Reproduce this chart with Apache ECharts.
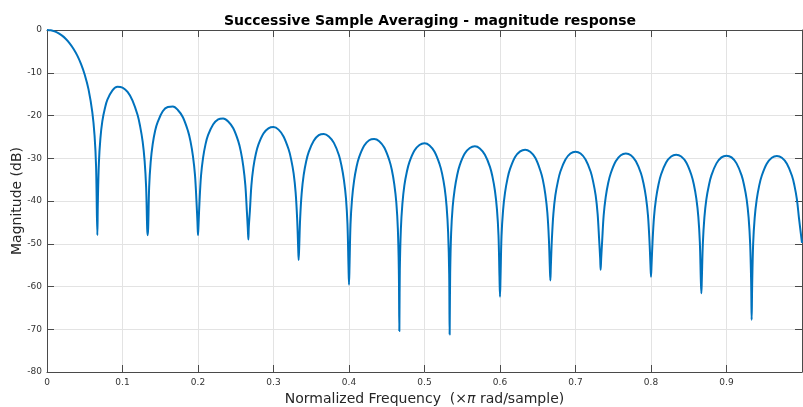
<!DOCTYPE html>
<html>
<head>
<meta charset="utf-8">
<script src="https://cdn.jsdelivr.net/npm/echarts@6/dist/echarts.min.js"></script>
<style>
  html, body { margin: 0; padding: 0; background: #fff; }
  #mychart { width: 803px; height: 407px; }
</style>
</head>
<body>
<div id="mychart"></div>
<script>
// normalized frequency (x pi rad/sample)
const freq = [
  0, 0.005, 0.01, 0.015, 0.02, 0.025, 0.03, 0.035, 0.04, 0.045, 0.05, 0.055, 0.06, 0.063, 0.065, 0.0667,
  0.0673, 0.0687, 0.0707, 0.0733, 0.0767, 0.08, 0.0867, 0.0933, 0.1, 0.1067, 0.1133, 0.12, 0.1233, 0.1267, 0.1293, 0.1313, 0.1327, 0.1333,
  0.134, 0.1353, 0.1373, 0.14, 0.1433, 0.1467, 0.1533, 0.16, 0.1667, 0.1733, 0.18, 0.1867, 0.19, 0.1933, 0.196, 0.198, 0.1993, 0.2,
  0.2007, 0.202, 0.204, 0.2067, 0.21, 0.2133, 0.22, 0.2267, 0.2333, 0.24, 0.2467, 0.2533, 0.2567, 0.26, 0.2627, 0.2647, 0.266, 0.2667,
  0.2673, 0.2687, 0.2707, 0.2733, 0.2767, 0.28, 0.2867, 0.2933, 0.3, 0.3067, 0.3133, 0.32, 0.3233, 0.3267, 0.3293, 0.3313, 0.3327, 0.3333,
  0.334, 0.3353, 0.3373, 0.34, 0.3433, 0.3467, 0.3533, 0.36, 0.3667, 0.3733, 0.38, 0.3867, 0.39, 0.3933, 0.396, 0.398, 0.3993, 0.4,
  0.4007, 0.402, 0.404, 0.4067, 0.41, 0.4133, 0.42, 0.4267, 0.4333, 0.44, 0.4467, 0.4533, 0.4567, 0.46, 0.4627, 0.4647, 0.466, 0.4667,
  0.4673, 0.4687, 0.4707, 0.4733, 0.4767, 0.48, 0.4867, 0.4933, 0.5, 0.5067, 0.5133, 0.52, 0.5233, 0.5267, 0.5293, 0.5313, 0.5327, 0.5333,
  0.534, 0.5353, 0.5373, 0.54, 0.5433, 0.5467, 0.5533, 0.56, 0.5667, 0.5733, 0.58, 0.5867, 0.59, 0.5933, 0.596, 0.598, 0.5993, 0.6,
  0.6007, 0.602, 0.604, 0.6067, 0.61, 0.6133, 0.62, 0.6267, 0.6333, 0.64, 0.6467, 0.6533, 0.6567, 0.66, 0.6627, 0.6647, 0.666, 0.6667,
  0.6673, 0.6687, 0.6707, 0.6733, 0.6767, 0.68, 0.6867, 0.6933, 0.7, 0.7067, 0.7133, 0.72, 0.7233, 0.7267, 0.7293, 0.7313, 0.7327, 0.7333,
  0.734, 0.7353, 0.7373, 0.74, 0.7433, 0.7467, 0.7533, 0.76, 0.7667, 0.7733, 0.78, 0.7867, 0.79, 0.7933, 0.796, 0.798, 0.7993, 0.8,
  0.8007, 0.802, 0.804, 0.8067, 0.81, 0.8133, 0.82, 0.8267, 0.8333, 0.84, 0.8467, 0.8533, 0.8567, 0.86, 0.8627, 0.8647, 0.866, 0.8667,
  0.8673, 0.8687, 0.8707, 0.8733, 0.8767, 0.88, 0.8867, 0.8933, 0.9, 0.9067, 0.9133, 0.92, 0.9233, 0.9267, 0.9293, 0.9313, 0.9327, 0.9333,
  0.934, 0.9353, 0.9373, 0.94, 0.9433, 0.9467, 0.9533, 0.96, 0.9667, 0.9733, 0.98, 0.9867, 0.99, 0.9933, 0.996, 1.0
]

// magnitude (dB)
const mag = [
  0, -0.08, -0.33, -0.74, -1.32, -2.11, -3.11, -4.37, -5.93, -7.91, -10.45, -13.9, -19.2, -24.7, -31.9, -48.0,
  -40.7, -31.2, -25.4, -21.3, -18.3, -16.3, -14.1, -13.3, -13.5, -14.5, -16.5, -19.9, -22.5, -26.1, -30.6, -36.8, -46.5, -48.0,
  -46.3, -36.8, -30.9, -26.7, -23.5, -21.5, -19.0, -18.0, -17.9, -18.7, -20.4, -23.6, -26.0, -29.5, -33.9, -40.1, -45.0, -48.0,
  -45.5, -40.1, -34.1, -29.9, -26.7, -24.6, -22.1, -20.9, -20.7, -21.4, -23.0, -26.0, -28.4, -31.9, -36.3, -42.3, -46.5, -49.0,
  -46.0, -42.4, -36.4, -32.2, -28.9, -26.8, -24.2, -23.0, -22.7, -23.3, -24.9, -27.9, -30.2, -33.6, -38.0, -44.1, -51.0, -53.8,
  -51.0, -44.1, -38.2, -33.9, -30.7, -28.5, -25.9, -24.6, -24.3, -24.9, -26.4, -29.3, -31.7, -35.1, -39.4, -45.5, -55.1, -59.6,
  -55.1, -45.5, -39.6, -35.3, -32.0, -29.8, -27.1, -25.8, -25.5, -26.0, -27.5, -30.4, -32.7, -36.1, -40.4, -46.5, -56.1, -70.4,
  -56.2, -46.6, -40.7, -36.4, -33.1, -30.9, -28.2, -26.9, -26.5, -27.0, -28.5, -31.4, -33.6, -37.0, -41.3, -47.4, -57.0, -71.2,
  -57.0, -47.4, -41.4, -37.2, -33.9, -31.6, -28.9, -27.6, -27.2, -27.7, -29.2, -32.0, -34.3, -37.6, -42.0, -48.0, -57.6, -62.4,
  -57.9, -48.3, -42.3, -38.0, -34.7, -32.5, -29.7, -28.4, -28.0, -28.5, -29.9, -32.8, -35.0, -38.4, -42.7, -48.7, -55.5, -58.6,
  -55.5, -49.0, -43.0, -38.7, -35.4, -33.1, -30.3, -28.9, -28.5, -28.9, -30.3, -33.1, -35.4, -38.7, -43.0, -49.0, -53.5, -56.1,
  -53.5, -49.4, -43.4, -39.1, -35.8, -33.5, -30.7, -29.3, -28.9, -29.3, -30.7, -33.5, -35.8, -39.1, -43.4, -49.4, -55.0, -57.7,
  -55.0, -49.7, -43.7, -39.4, -36.1, -33.8, -31.0, -29.6, -29.2, -29.6, -31.0, -33.8, -36.1, -39.4, -43.7, -49.7, -58.5, -61.6,
  -58.5, -49.9, -43.9, -39.6, -36.3, -34.0, -31.2, -29.8, -29.4, -29.8, -31.2, -34.0, -36.3, -39.6, -43.9, -49.9, -59.5, -67.8,
  -59.6, -50.0, -44.0, -39.7, -36.4, -34.1, -31.3, -29.9, -29.5, -29.9, -31.3, -34.1, -36.4, -39.7, -44.0, -49.8
]

const xTicks = [0, 0.1, 0.2, 0.3, 0.4, 0.5, 0.6, 0.7, 0.8, 0.9, 1]
const yTicks = [-80, -70, -60, -50, -40, -30, -20, -10, 0]

const myChart = echarts.init(document.getElementById('mychart'))

let points = []
for (let i = 0; i < freq.length; ++i) {
  points.push([freq[i], mag[i]])
}

const axisColor = '#4a4a4a'
const gridColor = '#e3e3e3'
const font = 'DejaVu Sans'

const xRange = { min: xTicks[0], max: xTicks[xTicks.length - 1], interval: 0.1 }
const yRange = { min: yTicks[0], max: yTicks[yTicks.length - 1], interval: 10 }

// box lines with ticks pointing into the plot (MATLAB style)
const boxLine = { show: true, onZero: false, lineStyle: { color: axisColor, width: 1 } }
const boxTick = { show: true, inside: true, length: 7, lineStyle: { color: axisColor } }

const options = {
  animation: false,
  textStyle: { fontFamily: font },
  title: {
    text: 'Successive Sample Averaging - magnitude response',
    left: 425,
    top: 9,
    textAlign: 'center',
    textStyle: { fontFamily: font, fontSize: 14, fontWeight: 'bold', color: '#000' }
  },
  grid: { left: 47, right: 1, top: 30, bottom: 35, outerBoundsMode: 'none', containLabel: false },
  xAxis: [
    Object.assign({
      type: 'value',
      position: 'bottom',
      name: '{n|Normalized Frequency  (}{i|×π}{n| rad/sample)}',
      nameLocation: 'middle',
      nameGap: 18,
      nameTextStyle: {
        rich: {
          n: { fontFamily: font, fontSize: 14, color: '#262626' },
          i: { fontFamily: font, fontSize: 14, color: '#262626', fontStyle: 'italic' }
        }
      },
      axisLine: boxLine,
      axisTick: boxTick,
      axisLabel: {
        showMaxLabel: false,
        margin: 6,
        fontSize: 9,
        fontFamily: font,
        color: '#333',
        formatter: function (v) { return String(Math.round(v * 10) / 10) }
      },
      splitLine: { show: true, lineStyle: { color: gridColor, width: 1 } }
    }, xRange),
    Object.assign({
      type: 'value',
      position: 'top',
      axisLine: boxLine,
      axisTick: boxTick,
      axisLabel: { show: false },
      splitLine: { show: false }
    }, xRange)
  ],
  yAxis: [
    Object.assign({
      type: 'value',
      position: 'left',
      name: 'Magnitude (dB)',
      nameLocation: 'middle',
      nameGap: 23,
      nameMoveOverlap: false,
      nameTextStyle: { fontFamily: font, fontSize: 14, color: '#262626' },
      axisLine: boxLine,
      axisTick: boxTick,
      axisLabel: { margin: 5, fontSize: 9, fontFamily: font, color: '#333' },
      splitLine: { show: true, lineStyle: { color: gridColor, width: 1 } }
    }, yRange),
    Object.assign({
      type: 'value',
      position: 'right',
      axisLine: boxLine,
      axisTick: boxTick,
      axisLabel: { show: false },
      splitLine: { show: false }
    }, yRange)
  ],
  series: [
    {
      name: 'magnitude',
      type: 'line',
      xAxisIndex: 0,
      yAxisIndex: 0,
      showSymbol: false,
      symbol: 'none',
      smooth: 0.35,
      lineStyle: { color: '#0072BD', width: 2, join: 'round' },
      data: points
    }
  ]
}

myChart.setOption(options)
</script>
</body>
</html>
